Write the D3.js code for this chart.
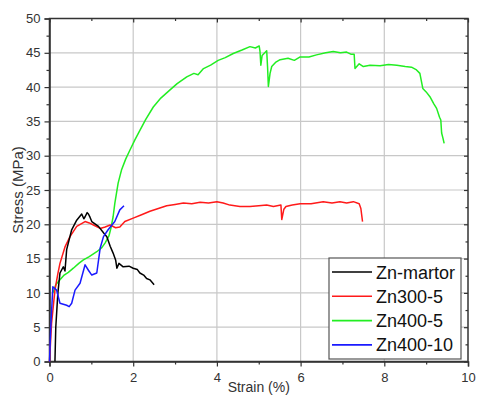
<!DOCTYPE html>
<html>
<head>
<meta charset="utf-8">
<script src="https://cdn.jsdelivr.net/npm/d3@7"></script>
<style>
  body { margin: 0; background: #fff; }
  text { font-family: "Liberation Sans", Arial, sans-serif; }
</style>
</head>
<body>
<div id="chart"></div>
<script>
// strain (%) , stress (MPa)
var zn_martor = [[0.13,0],[0.15,5],[0.2,10],[0.25,12.9],[0.33,13.8],[0.37,13.2],[0.41,16.3],[0.53,19.2],[0.65,20.6],[0.77,21.5],[0.82,20.8],[0.85,21.1],[0.9,21.7],[0.93,21.5],[0.97,21.0],[1.01,20.4],[1.17,19.7],[1.3,18.7],[1.37,18.2],[1.45,16.8],[1.52,15.8],[1.58,14.8],[1.61,13.6],[1.66,14.3],[1.76,13.8],[1.9,13.9],[2.0,13.6],[2.1,13.4],[2.16,12.9],[2.25,12.6],[2.32,12.1],[2.4,11.9],[2.5,11.2]];

var zn300_5 = [[0,0],[0.05,5.6],[0.13,10.4],[0.2,12.8],[0.25,14.3],[0.37,16.7],[0.49,18.2],[0.65,19.7],[0.85,20.4],[0.95,20.2],[1.05,19.9],[1.21,19.4],[1.33,19.6],[1.45,19.9],[1.58,19.5],[1.68,19.6],[1.8,20.4],[2.0,20.9],[2.2,21.4],[2.4,21.9],[2.6,22.3],[2.8,22.7],[3.0,22.9],[3.2,23.1],[3.4,23.0],[3.6,23.2],[3.8,23.1],[4.0,23.3],[4.15,23.1],[4.31,22.8],[4.55,22.6],[4.79,22.6],[5.0,22.7],[5.19,22.8],[5.35,22.6],[5.53,22.8],[5.55,20.7],[5.6,22.2],[5.65,22.6],[5.8,22.8],[5.99,23.0],[6.25,23.0],[6.54,23.3],[6.75,23.1],[6.94,23.3],[7.1,23.1],[7.26,23.3],[7.4,23.0],[7.44,22.3],[7.48,20.4]];

var zn400_5 = [[0.08,10.0],[0.15,11.2],[0.25,11.9],[0.35,12.6],[0.45,13.0],[0.57,13.6],[0.7,14.3],[0.81,14.8],[0.95,15.3],[1.13,16.0],[1.25,16.6],[1.33,17.3],[1.42,18.3],[1.47,19.5],[1.52,21.1],[1.56,23.0],[1.64,26.0],[1.72,27.9],[1.82,29.5],[1.92,30.8],[2.04,32.3],[2.16,33.7],[2.3,35.3],[2.48,37.1],[2.66,38.4],[2.88,39.6],[3.05,40.5],[3.28,41.5],[3.45,42.0],[3.55,41.8],[3.68,42.7],[3.85,43.2],[4.03,43.9],[4.2,44.3],[4.39,44.9],[4.6,45.4],[4.79,45.9],[4.92,45.7],[5.01,46.0],[5.03,45.2],[5.05,43.2],[5.08,44.6],[5.19,45.3],[5.21,43.0],[5.23,40.1],[5.27,42.0],[5.31,43.0],[5.4,43.6],[5.51,44.0],[5.7,44.2],[5.85,43.9],[5.99,44.4],[6.2,44.4],[6.38,44.7],[6.6,45.0],[6.78,45.2],[6.95,45.0],[7.1,45.1],[7.2,44.8],[7.28,44.8],[7.30,42.7],[7.4,43.4],[7.5,43.0],[7.66,43.2],[7.9,43.1],[8.1,43.3],[8.30,43.2],[8.5,43.0],[8.65,42.9],[8.77,42.5],[8.85,42.0],[8.92,39.8],[9.0,39.3],[9.09,38.6],[9.18,37.6],[9.25,36.9],[9.32,35.6],[9.35,35.2],[9.37,33.3],[9.4,32.6],[9.43,31.8]];

var zn400_10 = [[0,0],[0.03,5],[0.08,10.9],[0.17,10.4],[0.25,8.5],[0.41,8.2],[0.47,8.0],[0.53,8.5],[0.61,10.4],[0.73,11.4],[0.85,14.1],[0.93,13.3],[1.01,12.6],[1.13,12.9],[1.21,16.5],[1.29,18.2],[1.40,19.2],[1.56,20.4],[1.68,22.1],[1.78,22.7]];

var names = ["Zn-martor", "Zn300-5", "Zn400-5", "Zn400-10"];
var colors = ["#000000", "#ff1a1a", "#22ee22", "#1a1aff"];
var xTicks = [0, 2, 4, 6, 8, 10];
var yTicks = [0, 5, 10, 15, 20, 25, 30, 35, 40, 45, 50];

var W = 477, H = 396;
var pL = 49.5, pR = 468, pT = 18.5, pB = 361.5;

var x = d3.scaleLinear().domain([0, 10]).range([pL, pR]);
var y = d3.scaleLinear().domain([0, 50]).range([pB, pT]);

var svg = d3.select("#chart").append("svg")
    .attr("width", W).attr("height", H);

// grid
var grid = svg.append("g").attr("stroke", "#c8c8c8").attr("stroke-width", 1.2);
xTicks.slice(1, -1).forEach(function(t){
  grid.append("line").attr("x1", x(t)).attr("x2", x(t)).attr("y1", pT).attr("y2", pB);
});
yTicks.slice(1, -1).forEach(function(t){
  grid.append("line").attr("x1", pL).attr("x2", pR).attr("y1", y(t)).attr("y2", y(t));
});

// axes
var axB = svg.append("g").attr("transform", "translate(0," + pB + ")")
  .call(d3.axisBottom(x).tickValues(d3.range(0, 11, 1)).tickSize(5).tickPadding(6)
    .tickFormat(function(d){ return d % 2 === 0 ? d : ""; }));
var axL = svg.append("g").attr("transform", "translate(" + pL + ",0)")
  .call(d3.axisLeft(y).tickValues(d3.range(0, 50.1, 2.5)).tickSize(5).tickPadding(4)
    .tickFormat(function(d){ return d % 5 === 0 ? d : ""; }));
var axT = svg.append("g").attr("transform", "translate(0," + pT + ")")
  .call(d3.axisBottom(x).tickValues(d3.range(0, 11, 1)).tickSize(4).tickFormat(""));
var axR = svg.append("g").attr("transform", "translate(" + pR + ",0)")
  .call(d3.axisLeft(y).tickValues(d3.range(0, 50.1, 2.5)).tickSize(4).tickFormat(""));

[axB, axL, axT, axR].forEach(function(a){
  a.selectAll("line").attr("stroke", "#333").attr("stroke-width", 1.2);
});
[axT, axR].forEach(function(a){ a.select(".domain").remove(); });
// minor ticks shorter
axB.selectAll(".tick").filter(function(d){ return d % 2 !== 0; }).select("line").attr("y2", 3);
axL.selectAll(".tick").filter(function(d){ return d % 5 !== 0; }).select("line").attr("x2", -3);
axT.selectAll(".tick").filter(function(d){ return d % 2 !== 0; }).select("line").attr("y2", 2.5);
axR.selectAll(".tick").filter(function(d){ return d % 5 !== 0; }).select("line").attr("x2", -2.5);

[axB, axL].forEach(function(a){
  a.select(".domain").attr("stroke", "#333").attr("stroke-width", 1.5);
  a.selectAll("text").attr("font-size", 13).attr("fill", "#333")
    .attr("font-family", "'Liberation Sans', Arial, sans-serif");
});

svg.append("rect")
  .attr("x", pL).attr("y", pT).attr("width", pR - pL).attr("height", pB - pT)
  .attr("fill", "none").attr("stroke", "#333").attr("stroke-width", 1.5);

// curves
var line = d3.line().x(function(d){ return x(d[0]); }).y(function(d){ return y(d[1]); });
var series = [zn_martor, zn300_5, zn400_5, zn400_10];
[2, 1, 0, 3].forEach(function(i){
  svg.append("path").datum(series[i])
    .attr("fill", "none").attr("stroke", colors[i]).attr("stroke-width", 1.5)
    .attr("stroke-linejoin", "round")
    .attr("d", line);
});

// axis titles
svg.append("text")
  .attr("x", (pL + pR) / 2).attr("y", 392)
  .attr("text-anchor", "middle").attr("font-size", 14).attr("fill", "#333")
  .text("Strain (%)");
svg.append("text")
  .attr("transform", "translate(23," + ((pT + pB) / 2) + ") rotate(-90)")
  .attr("text-anchor", "middle").attr("font-size", 15).attr("fill", "#333")
  .text("Stress (MPa)");

// legend
var lg = svg.append("g").attr("transform", "translate(329,258)");
lg.append("rect").attr("width", 132).attr("height", 101)
  .attr("fill", "#fff").attr("stroke", "#555").attr("stroke-width", 1.2);
names.forEach(function(n, i){
  var yy = 14 + i * 24.3;
  lg.append("line").attr("x1", 3).attr("x2", 43).attr("y1", yy).attr("y2", yy)
    .attr("stroke", colors[i]).attr("stroke-width", 1.6);
  lg.append("text").attr("x", 47).attr("y", yy + 6.5)
    .attr("font-size", 18).attr("fill", "#111").text(n);
});
</script>
</body>
</html>
